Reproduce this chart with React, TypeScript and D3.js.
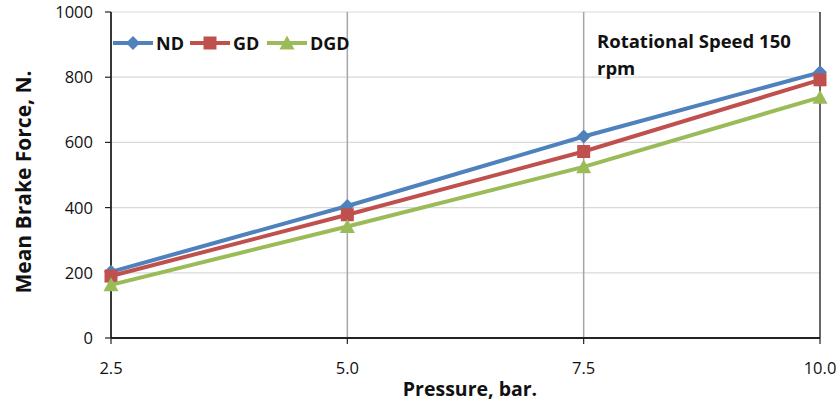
import React from "react";
import * as d3 from "d3";

const pressures = [2.5, 5.0, 7.5, 10.0];
const ndValues = [203, 405, 618, 815];
const gdValues = [190, 378, 572, 792];
const dgdValues = [163, 342, 525, 738];
const yTicks = [0, 200, 400, 600, 800, 1000];
const xTickLabels = ["2.5", "5.0", "7.5", "10.0"];
const seriesNames = ["ND", "GD", "DGD"];
const seriesColors = ["#4F81BD", "#C0504D", "#9BBB59"];

const W = 837;
const H = 404;
const FONT = "Open Sans, Liberation Sans, sans-serif";

function Marker({ kind, x, y, color }: { kind: number; x: number; y: number; color: string }) {
  if (kind === 0) {
    const s = 7;
    return <path d={`M${x},${y - s}L${x + s},${y}L${x},${y + s}L${x - s},${y}Z`} fill={color} />;
  }
  if (kind === 1) {
    const s = 6.5;
    return <rect x={x - s} y={y - s} width={2 * s} height={2 * s} fill={color} />;
  }
  const s = 7.5;
  return <path d={`M${x},${y - s}L${x + s},${y + s * 0.85}L${x - s},${y + s * 0.85}Z`} fill={color} />;
}

export default function App() {
  const x = d3.scaleLinear().domain([2.5, 10]).range([111, 820]);
  const y = d3.scaleLinear().domain([0, 1000]).range([338, 12]);
  const allSeries = [ndValues, gdValues, dgdValues];
  const line = d3
    .line<number>()
    .x((_, i) => x(pressures[i]))
    .y((d) => y(d));

  const legendX = [113, 190, 267];

  return (
    <svg width={W} height={H} style={{ position: "absolute", left: 0, top: 0, background: "#fff" }}>
      <rect x={0} y={0} width={W} height={H} fill="#fff" />
      {yTicks.filter((t) => t > 0).map((t) => (
        <line key={"hg" + t} x1={111} x2={820} y1={y(t)} y2={y(t)} stroke="#d9d9d9" strokeWidth={1.2} />
      ))}
      {pressures.slice(1, 3).map((p) => (
        <line key={"vg" + p} x1={x(p)} x2={x(p)} y1={12} y2={338} stroke="#a6a6a6" strokeWidth={1.5} />
      ))}
      <line x1={x(10)} x2={x(10)} y1={12} y2={338} stroke="#333" strokeWidth={1.5} />
      <line x1={111} x2={111} y1={12} y2={338} stroke="#222" strokeWidth={1.8} />
      <line x1={111} x2={820} y1={338} y2={338} stroke="#222" strokeWidth={1.8} />
      {yTicks.map((t) => (
        <g key={"yt" + t}>
          <line x1={105} x2={111} y1={y(t)} y2={y(t)} stroke="#222" strokeWidth={1.2} />
          <text x={93} y={y(t) + 6} textAnchor="end" fontFamily={FONT} fontSize={16.5} fill="#111">
            {t}
          </text>
        </g>
      ))}
      {pressures.map((p, i) => (
        <g key={"xt" + p}>
          <line x1={x(p)} x2={x(p)} y1={338} y2={344} stroke="#222" strokeWidth={1.2} />
          <text x={x(p)} y={374} textAnchor="middle" fontFamily={FONT} fontSize={16.5} fill="#111">
            {xTickLabels[i]}
          </text>
        </g>
      ))}
      {allSeries.map((vals, si) => (
        <g key={"s" + si}>
          <path d={line(vals) || ""} fill="none" stroke={seriesColors[si]} strokeWidth={4} />
          {vals.map((v, i) => (
            <Marker key={i} kind={si} x={x(pressures[i])} y={y(v)} color={seriesColors[si]} />
          ))}
        </g>
      ))}
      {seriesNames.map((n, i) => (
        <g key={"lg" + n}>
          <line x1={legendX[i]} x2={legendX[i] + 40} y1={43} y2={43} stroke={seriesColors[i]} strokeWidth={4} />
          <Marker kind={i} x={legendX[i] + 20} y={43} color={seriesColors[i]} />
          <text x={legendX[i] + 43} y={50} fontFamily={FONT} fontSize={18} fontWeight="bold" fill="#111">
            {n}
          </text>
        </g>
      ))}
      <text x={597} y={48} fontFamily={FONT} fontSize={18.5} fontWeight="bold" fill="#111">
        Rotational Speed 150
      </text>
      <text x={597} y={75} fontFamily={FONT} fontSize={18.5} fontWeight="bold" fill="#111">
        rpm
      </text>
      <text x={470} y={396} textAnchor="middle" fontFamily={FONT} fontSize={19.5} fontWeight="bold" fill="#111">
        Pressure, bar.
      </text>
      <text
        transform={`translate(31,182) rotate(-90)`}
        textAnchor="middle"
        fontFamily={FONT}
        fontSize={21}
        fontWeight="bold"
        fill="#111"
      >
        Mean Brake Force, N.
      </text>
    </svg>
  );
}
